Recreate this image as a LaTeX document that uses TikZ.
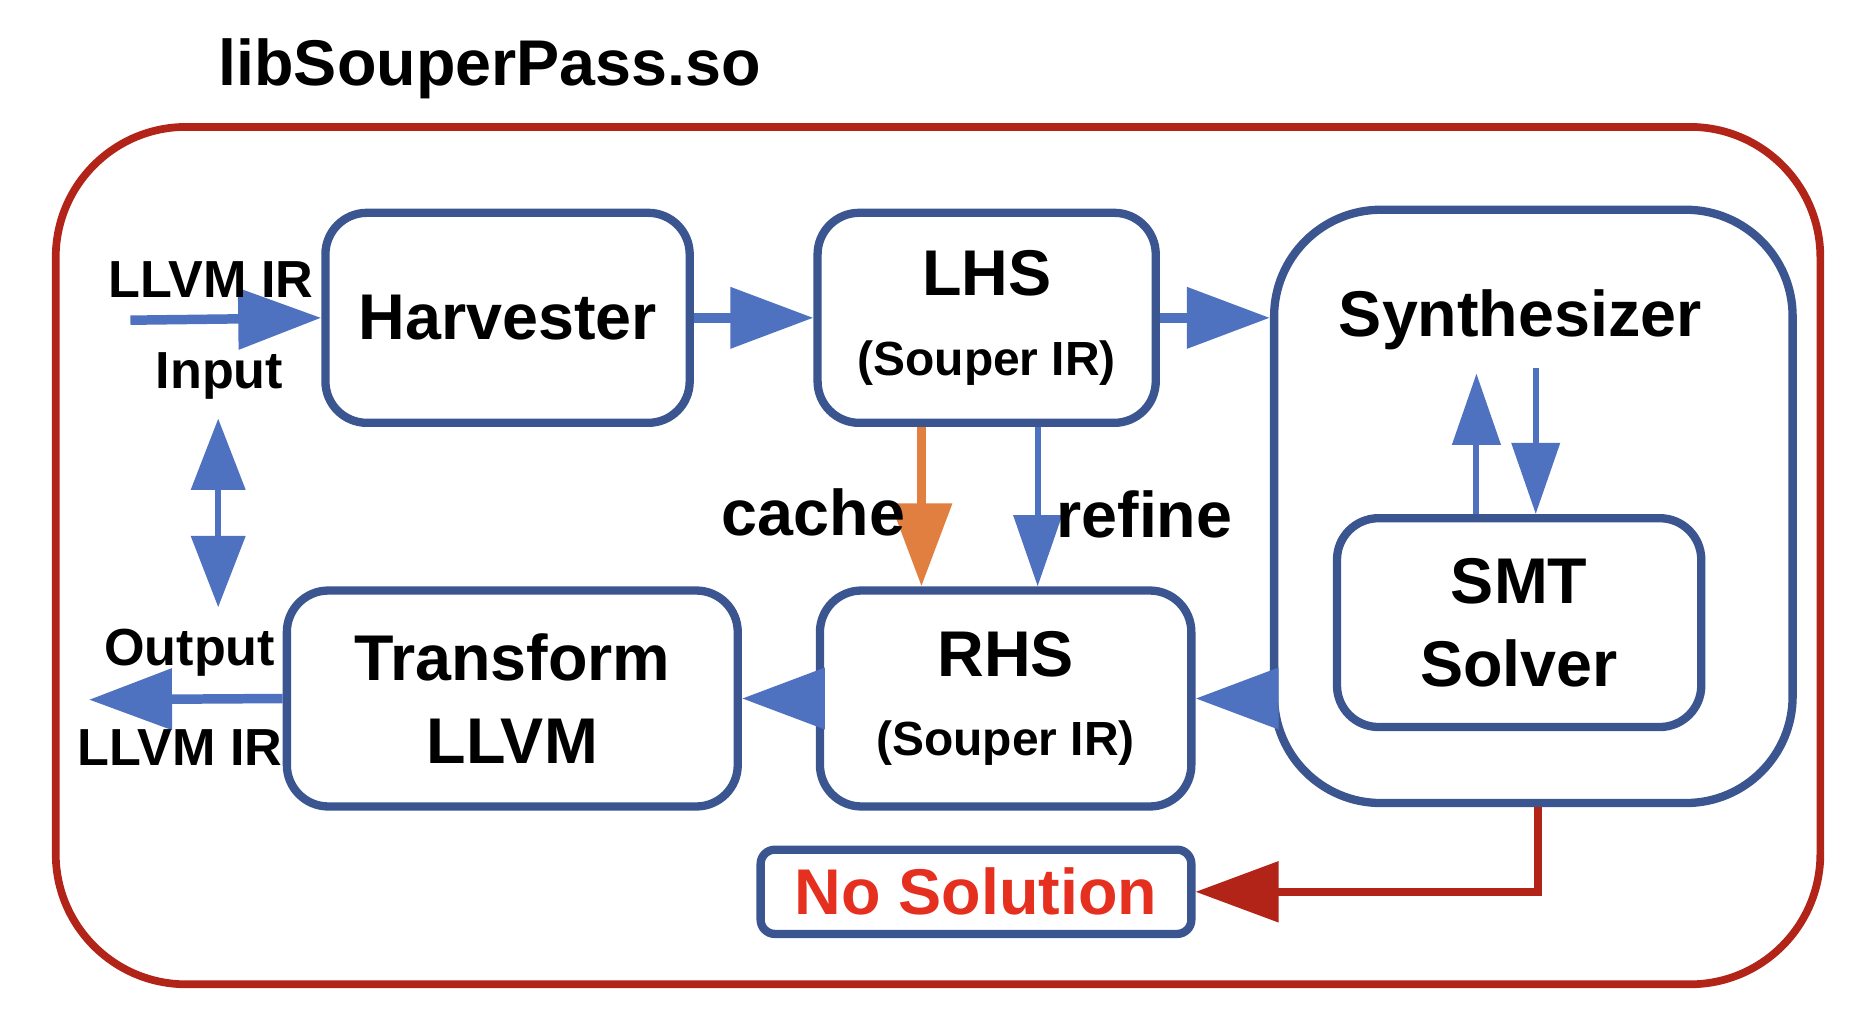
\documentclass[tikz,border=0pt]{standalone}
\usepackage{fontspec}
\setmainfont{Liberation Sans}
\usetikzlibrary{arrows.meta}
\definecolor{frameRed}{HTML}{B22418}
\definecolor{boxBlue}{HTML}{3A5590}
\definecolor{arrBlue}{HTML}{4F72C0}
\definecolor{cacheOrange}{HTML}{E07F3F}
\definecolor{textRed}{HTML}{E53020}
\tikzset{
  box/.style={draw=boxBlue, line width=0.07cm, rounded corners=0.35cm, font=\fontsize{15.5}{18}\selectfont\bfseries, align=center, inner sep=0pt},
  flow/.style={arrBlue, line width=0.08cm, -{Triangle[length=0.7cm, width=0.5cm]}},
  thin flow/.style={arrBlue, line width=0.05cm, -{Triangle[length=0.6cm, width=0.4cm]}},
  lbl/.style={font=\fontsize{12.5}{15}\selectfont\bfseries},
  big/.style={font=\fontsize{15.5}{18}\selectfont\bfseries}
}
\begin{document}
\begin{tikzpicture}[x=0.01cm, y=-0.01cm]
    \useasboundingbox (0,0) rectangle (1560,860);

    % Rahmen
    \draw[frameRed, line width=0.065cm, rounded corners=1.1cm] (47,107) rectangle (1535,830);
    \node[big] (title) at (413,58) {libSouperPass.so};

    % --- Bloecke ---
    \node[box, minimum width=3.07cm, minimum height=1.77cm] (harv) at (428,268) {Harvester};
    \node[box, minimum width=2.85cm, minimum height=1.77cm] (lhs) at (832,268) {LHS\\[1pt]{\fontsize{11.5}{14}\selectfont (Souper IR)}};
    \node[box, minimum width=4.37cm, minimum height=5.0cm, rounded corners=0.9cm] (synth) at (1293,427) {};
    \node[big] (synthlbl) at (1282,270) {Synthesizer};
    \node[box, minimum width=3.07cm, minimum height=1.76cm] (smt) at (1281,525) {SMT\\[2pt]Solver};
    \node[box, minimum width=3.8cm, minimum height=1.82cm] (trans) at (432,589) {Transform\\[2pt]LLVM};
    \node[box, minimum width=3.13cm, minimum height=1.82cm] (rhs) at (848,589) {RHS\\[1pt]{\fontsize{11.5}{14}\selectfont (Souper IR)}};
    \node[box, minimum width=3.63cm, minimum height=0.71cm, rounded corners=0.12cm, text=textRed] (nosol) at (823,752) {No Solution};

    % --- Koordinaten ---
    \coordinate (in) at (110,270);
    \coordinate (out) at (75,590);
    \coordinate (ioTop) at (184,353);
    \coordinate (ioBot) at (184,512);
    \coordinate (upTop) at (1245,315);
    \coordinate (downTop) at (1295,310);
    \coordinate (bend) at (1297,752);

    % --- Pfeile ---
    \draw[flow] (in) -- (harv.west);
    \draw[flow] (harv.east) -- (lhs.west);
    \draw[flow] (lhs.east) -- (lhs.east -| synth.west);
    \draw[thin flow] (upTop |- smt.north) -- (upTop);
    \draw[thin flow] (downTop) -- (downTop |- smt.north);
    \draw[cacheOrange, line width=0.08cm, -{Triangle[length=0.7cm, width=0.5cm]}] (777,0 |- lhs.south) -- (777,0 |- rhs.north);
    \draw[thin flow] (875,0 |- lhs.south) -- (875,0 |- rhs.north);
    \draw[flow] (rhs.east -| synth.west) -- (rhs.east);
    \draw[flow] (rhs.west) -- (trans.east);
    \draw[flow] (trans.west) -- (out);
    \draw[arrBlue, line width=0.05cm, {Triangle[length=0.6cm, width=0.45cm]}-{Triangle[length=0.6cm, width=0.45cm]}] (ioTop) -- (ioBot);
    \draw[frameRed, line width=0.065cm, -{Triangle[length=0.7cm, width=0.5cm]}] (bend |- synth.south) -- (bend) -- (nosol.east);

    % --- Beschriftungen ---
    \node[lbl] (inA) at (178,236) {LLVM IR};
    \node[lbl] (inB) at (185,317) {Input};
    \node[lbl] (outA) at (160,550) {Output};
    \node[lbl] (outB) at (152,630) {LLVM IR};
    \node[big] (cache) at (686,432) {cache};
    \node[big] (refine) at (965,434) {refine};
\end{tikzpicture}
\end{document}
